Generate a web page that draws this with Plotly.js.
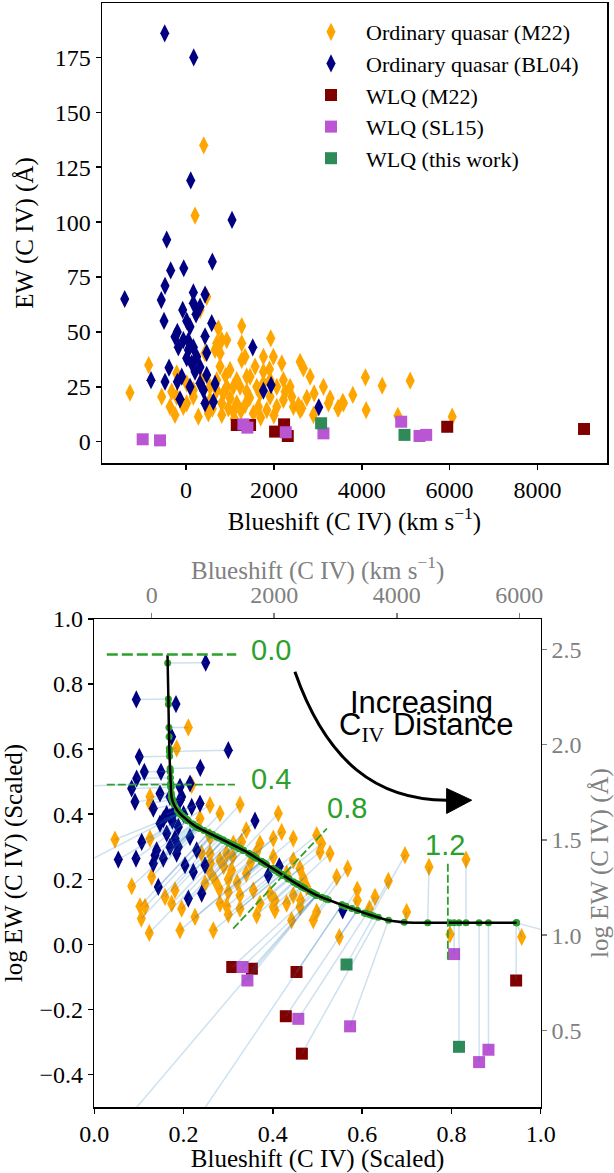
<!DOCTYPE html>
<html><head><meta charset="utf-8">
<script src="https://cdn.plot.ly/plotly-3.0.1.min.js"></script>
<style>html,body{margin:0;padding:0;background:#fff;}#chart{width:614px;height:1173px;}</style>
</head><body><div id="chart"></div>
<script>
// ---------- TOP PANEL DATA (Blueshift km/s, EW Angstrom) ----------
const topM22BS = [403,205,-1276,-850,-554,-364,-251,281,509,813,1077,1268,1929,1268,927,736,775,1344,1989,2180,2597,2672,2825,1572,1762,1002,775,1155,1458,2369,2217,3128,2916,3280,3583,3797,3470,4084,4465,4100,3242,2444,2597,2217,2066,1838,1647,1533,1344,1155,1002,850,699,927,1230,1382,1686,1914,2255,2408,2558,15,167,-212,-326,-61,547,813,964,-212,433,661,813,319,471,699,1268,1762,1382,1914,1762,2066,1610,1077,699,547,167,15,2635,3455,3569,5103,4822,6060,2900,1100,1700,2000,600,350,1900,1450,2750,900,1250];
const topM22EW = [135,103,22.3,34.9,20.5,15.9,12.2,11.4,12.9,12.2,13.7,52.7,47.1,44.8,46.3,51.6,40.3,38.7,38.7,35.7,36.4,33.4,29.6,34.2,31.9,32.7,34.2,28.1,29.6,25,28.1,25,22,19.8,17.5,21.3,15.2,29.3,25.5,14.4,17.5,15.9,14.4,19,15.9,14.4,15.9,12.9,16.7,17.5,19.8,22,23.5,25,25,22.8,22,20.5,22.8,20.5,16.7,17.5,20.5,20.5,22.8,15.9,19,17.5,15.2,31.1,40.3,41.8,46.3,60,66,44.8,37.2,38.7,29.6,28.1,26.6,25,25,25,28.1,25,23.5,26.6,15.2,15.2,18.2,27.8,11.8,11.4,12.2,10.5,11,12,15,28,33,20,20,30,14];
const topBL04BS = [-485,175,107,1047,-440,-349,-52,599,-478,-1396,-563,167,433,-76,-501,15,228,585,-198,53,167,433,-175,471,15,319,1519,-387,-797,-478,-198,-98,205,471,661,319,91,395,-137,433,623,1762,1936,3022,129,243,-61,91,167,319,-251,53];
const topBL04EW = [186,175,119,101,92,78,79,82,71,65,64.5,68,67,60,55,55,58,54,50,46,43,48,43,40.5,38,34,43,33.7,28,27.3,27.3,29.6,31.9,30.4,26.3,26.6,25,23.5,19.3,17.5,18.2,23.2,25.8,15.7,35.7,38.7,46.3,52.4,63,61.5,47.8,41.8];
const topWlqM22BS = [1155,1458,2027,2232,2316,5946,9060];
const topWlqM22EW = [7.6,7.6,4.6,7.9,2.6,6.8,5.8];
const topWlqSL15BS = [-987,-592,1306,1397,2270,3128,4898,5315,5467];
const topWlqSL15EW = [1.1,0.6,7.9,6.4,4.3,3.8,9.1,2.6,3.1];
const topWlqThisBS = [3075,4973];
const topWlqThisEW = [8.4,3.1];

// ---------- BOTTOM PANEL DATA (scaled blueshift, scaled log EW) ----------
const botM22X = [0.2106,0.1845,0.2182,0.1247,0.1248,0.2592,0.3264,0.2816,0.4122,0.2368,0.0464,0.1248,0.0838,0.1024,0.1136,0.1054,0.1232,0.1285,0.1584,0.1957,0.2256,0.2666,0.1920,0.1733,0.1808,0.3405,0.3712,0.4197,0.4458,0.4010,0.3637,0.4010,0.4458,0.4982,0.5094,0.5280,0.5056,0.5430,0.4607,0.4309,0.4682,0.4757,0.4458,0.3936,0.3562,0.3264,0.3712,0.4010,0.4309,0.3637,0.4420,0.4607,0.4982,0.4906,0.3002,0.2816,0.3264,0.3405,0.3077,0.2816,0.2592,0.2592,0.3114,0.2965,0.3002,0.4047,0.2703,0.2592,0.2480,0.2965,0.3300,0.29,0.31,0.30,0.28,0.32,0.35,0.26,0.24,0.5676,0.5892,0.5892,0.6288,0.6587,0.6960,0.7498,0.6162,0.6997,0.5489,0.4622,0.4047,0.8327,0.7968,0.9574,-0.047];
const botM22Y = [0.6667,0.6021,0.4892,0.4533,0.4329,0.4277,0.4297,0.4021,0.4021,0.3867,0.3221,0.3252,0.1785,0.1169,0.1149,0.0791,0.0348,0.2072,0.1456,0.1097,0.0841,0.0431,0.0431,0.1251,0.1662,0.3508,0.3098,0.3456,0.3252,0.3252,0.2841,0.2687,0.2585,0.3354,0.3098,0.2790,0.2841,0.2072,0.2329,0.2175,0.2021,0.1764,0.1508,0.1559,0.1662,0.1508,0.1252,0.1149,0.1252,0.0892,0.0738,0.1149,0.0995,0.0738,0.1610,0.1252,0.1097,0.2175,0.2277,0.2585,0.2790,0.3302,0.3098,0.1169,0.0918,0.1046,0.1970,0.2226,0.1867,0.2790,0.3150,0.24,0.27,0.20,0.17,0.19,0.25,0.25,0.28,0.2329,0.1682,0.1354,0.1456,0.1949,0.2739,0.2380,0.1097,0.0995,0.0226,0.1354,0.1354,0.2605,0.0308,0.0226,0.232];
const botBL04X = [0.2495,0.0941,0.1830,0.1733,0.3002,0.1008,0.2375,0.1120,0.1494,0.0949,0.0837,0.2144,0.1920,0.0911,0.1472,0.1322,0.1957,0.2368,0.1472,0.1696,0.1882,0.1062,0.0538,0.0934,0.1397,0.1322,0.1546,0.1696,0.1845,0.2032,0.2218,0.1434,0.2106,0.2406,0.2480,0.2294,0.2144,0.1808,0.1622,0.1696,0.1920,0.2182,0.3600,0.4144,0.3898,0.5564,0.1360,0.1882,0.1620,0.1800,0.1750,0.1550,0.2000,-0.063];
const botBL04Y = [0.8656,0.7529,0.7385,0.6379,0.5969,0.5764,0.5426,0.5303,0.5303,0.5098,0.4790,0.4944,0.4840,0.4379,0.4636,0.4174,0.4533,0.4328,0.3713,0.3918,0.3610,0.3148,0.2605,0.2636,0.2892,0.2482,0.2636,0.2995,0.2790,0.2431,0.2225,0.1764,0.1405,0.1559,0.2431,0.2892,0.3302,0.3252,0.3406,0.4533,0.4431,0.4225,0.3800,0.2400,0.2123,0.1046,0.2738,0.2995,0.4000,0.4100,0.3800,0.3850,0.4000,0.485];
const botWlqM22X = [0.309,0.353,0.453,0.429,0.465,0.945,1.37];
const botWlqM22Y = [-0.070,-0.075,-0.085,-0.221,-0.336,-0.111,-0.09];
const botWlqSL15X = [0.332,0.343,0.457,0.573,0.806,0.862,0.883,0.04,0.20];
const botWlqSL15Y = [-0.070,-0.111,-0.229,-0.252,-0.030,-0.362,-0.324,-0.59,-0.60];
const botWlqThisX = [0.565,0.817];
const botWlqThisY = [-0.062,-0.315];
// principal curve
const curveX = [0.164,0.166,0.168,0.171,0.173,0.180,0.192,0.210,0.229,0.282,0.341,0.394,0.446,0.498,0.547,0.610,0.659,0.700,0.759,0.946];
const curveY = [0.889,0.750,0.600,0.500,0.453,0.425,0.402,0.380,0.361,0.325,0.284,0.238,0.192,0.151,0.125,0.094,0.074,0.067,0.066,0.066];
// distance labels
const distLabels = ['0.0','0.4','0.8','1.2'];

// ---------- styling ----------
const SERIF = 'Liberation Serif, DejaVu Serif, serif';
const SANS = 'Liberation Sans, Arial, sans-serif';
const C = {m22:'#FFA500', bl04:'#000080', wm22:'#800000', wsl15:'#BA55D3', wthis:'#2E8B57', green:'#2ca02c', gray:'#808080'};
const W = 614, H = 1173;

// nearest point on curve
function project(px, py){
  let best=[curveX[0],curveY[0]], bd=Infinity;
  for(let i=0;i<curveX.length-1;i++){
    const ax=curveX[i], ay=curveY[i], dx=curveX[i+1]-ax, dy=curveY[i+1]-ay;
    let t=((px-ax)*dx+(py-ay)*dy)/(dx*dx+dy*dy); t=Math.max(0,Math.min(1,t));
    const qx=ax+t*dx, qy=ay+t*dy, d=(px-qx)*(px-qx)+(py-qy)*(py-qy);
    if(d<bd){bd=d;best=[qx,qy];}
  }
  return best;
}
const allBX = [].concat(botM22X, botBL04X, botWlqM22X, botWlqSL15X, botWlqThisX);
const allBY = [].concat(botM22Y, botBL04Y, botWlqM22Y, botWlqSL15Y, botWlqThisY);
const linkX=[], linkY=[], dotX=[], dotY=[];
allBX.forEach((x,i)=>{const p=project(x,allBY[i]); linkX.push(x,p[0],null); linkY.push(allBY[i],p[1],null); dotX.push(p[0]); dotY.push(p[1]);});

const dia = (c)=>({symbol:'diamond-tall', size:13, color:c, line:{width:0}});
const sq = (c)=>({symbol:'square', size:12, color:c, line:{width:0}});

const traces = [
  {type:'scatter', mode:'markers', name:'Ordinary quasar (M22)', x:topM22BS, y:topM22EW, marker:dia(C.m22), xaxis:'x', yaxis:'y'},
  {type:'scatter', mode:'markers', name:'Ordinary quasar (BL04)', x:topBL04BS, y:topBL04EW, marker:dia(C.bl04), xaxis:'x', yaxis:'y'},
  {type:'scatter', mode:'markers', name:'WLQ (M22)', x:topWlqM22BS, y:topWlqM22EW, marker:sq(C.wm22), xaxis:'x', yaxis:'y'},
  {type:'scatter', mode:'markers', name:'WLQ (SL15)', x:topWlqSL15BS, y:topWlqSL15EW, marker:sq(C.wsl15), xaxis:'x', yaxis:'y'},
  {type:'scatter', mode:'markers', name:'WLQ (this work)', x:topWlqThisBS, y:topWlqThisEW, marker:sq(C.wthis), xaxis:'x', yaxis:'y'},
  // bottom
  {type:'scatter', mode:'markers', x:botM22X, y:botM22Y, marker:dia(C.m22), xaxis:'x2', yaxis:'y2', showlegend:false},
  {type:'scatter', mode:'markers', x:botBL04X, y:botBL04Y, marker:dia(C.bl04), xaxis:'x2', yaxis:'y2', showlegend:false},
  {type:'scatter', mode:'markers', x:botWlqM22X, y:botWlqM22Y, marker:sq(C.wm22), xaxis:'x2', yaxis:'y2', showlegend:false},
  {type:'scatter', mode:'markers', x:botWlqSL15X, y:botWlqSL15Y, marker:sq(C.wsl15), xaxis:'x2', yaxis:'y2', showlegend:false},
  {type:'scatter', mode:'markers', x:botWlqThisX, y:botWlqThisY, marker:sq(C.wthis), xaxis:'x2', yaxis:'y2', showlegend:false},
  {type:'scatter', mode:'lines', x:linkX, y:linkY, line:{color:'rgba(31,119,180,0.22)', width:1.5}, xaxis:'x2', yaxis:'y2', showlegend:false, connectgaps:false},
  {type:'scatter', mode:'markers', x:dotX, y:dotY, marker:{color:C.green, size:7, line:{width:0}}, xaxis:'x2', yaxis:'y2', showlegend:false},
  {type:'scatter', mode:'lines', x:curveX, y:curveY, line:{color:'black', width:2.5, shape:'spline', smoothing:0.6}, xaxis:'x2', yaxis:'y2', showlegend:false},
  {type:'scatter', mode:'markers', x:[], y:[], xaxis:'x3', yaxis:'y3', showlegend:false, hoverinfo:'skip'}
];

function ax(o){
  return Object.assign({showgrid:false, zeroline:false, showline:true, mirror:true, linecolor:'black', linewidth:1.5,
    ticks:'outside', ticklen:5, tickwidth:1.5, tickcolor:'black', automargin:false,
    tickfont:{family:SERIF, size:24, color:'black'}}, o);
}
const ttl = (t, s, col)=>({text:t, standoff:s, font:{family:SERIF, size:25, color:col||'black'}});

const layout = {
  width:W, height:H, margin:{l:0,r:0,t:0,b:0}, paper_bgcolor:'white', plot_bgcolor:'white',
  font:{family:SERIF, size:24, color:'black'},
  showlegend:true,
  legend:{x:296/W, xanchor:'left', y:1-11/H, yanchor:'top', bgcolor:'rgba(0,0,0,0)', borderwidth:0,
    font:{family:SERIF, size:22, color:'black'}, itemwidth:60, tracegroupgap:0},
  xaxis: ax({domain:[102/W, 607/W], anchor:'y', range:[-1913, 9583], tickvals:[0,2000,4000,6000,8000],
    title:ttl('Blueshift (C IV) (km s<sup>−1</sup>)', 8)}),
  yaxis: ax({domain:[1-463/H, 1-3/H], anchor:'x', range:[-9.7, 199.8], tickvals:[0,25,50,75,100,125,150,175],
    title:ttl('EW (C IV) (Å)', 14)}),
  xaxis2: ax({domain:[94.3/W, 540.7/W], anchor:'y2', range:[0,1], tickvals:[0,0.2,0.4,0.6,0.8,1.0], tickformat:'.1f',
    title:ttl('Blueshift (C IV) (Scaled)', 4)}),
  yaxis2: ax({domain:[1-1107/H, 1-619/H], anchor:'x2', range:[-0.5,1.0], tickvals:[-0.4,-0.2,0,0.2,0.4,0.6,0.8,1.0], tickformat:'.1f',
    title:ttl('log EW (C IV) (Scaled)', 14)}),
  xaxis3: ax({overlaying:'x2', side:'top', anchor:'y2', range:[-937, 6349], tickvals:[0,2000,4000,6000], showline:false, mirror:false,
    tickcolor:C.gray, tickfont:{family:SERIF, size:24, color:C.gray}}),
  yaxis3: ax({overlaying:'y2', side:'right', anchor:'x2', range:[0.098, 2.659], tickvals:[0.5,1.0,1.5,2.0,2.5], tickformat:'.1f', showline:false, mirror:false,
    tickcolor:C.gray, tickfont:{family:SERIF, size:24, color:C.gray}, title:ttl('log EW (C IV) (Å)', 10, C.gray)}),
  shapes:[
    {type:'line', xref:'x2', yref:'y2', x0:0.028, y0:0.891, x1:0.318, y1:0.891, line:{color:C.green, width:2.5, dash:'11px,4px'}},
    {type:'line', xref:'x2', yref:'y2', x0:0.028, y0:0.491, x1:0.315, y1:0.491, line:{color:C.green, width:1.8, dash:'8px,3px'}},
    {type:'line', xref:'x2', yref:'y2', x0:0.311, y0:0.048, x1:0.521, y1:0.356, line:{color:C.green, width:1.8, dash:'8px,3px'}},
    {type:'line', xref:'x2', yref:'y2', x0:0.792, y0:0.248, x1:0.792, y1:-0.05, line:{color:C.green, width:1.8, dash:'8px,3px'}},
    {type:'path', xref:'x2', yref:'y2', path:'M 0.4494,0.8375 C 0.5202,0.56 0.6333,0.4431 0.7901,0.4431', line:{color:'black', width:3}},
    {type:'path', xref:'x2', yref:'y2', path:'M 0.7893,0.479 L 0.8454,0.4431 L 0.7893,0.4022 Z', line:{color:'black', width:1}, fillcolor:'black'}
  ],
  annotations:[
    {xref:'paper', yref:'paper', x:317.5/W, y:1-569/H, xanchor:'center', yanchor:'middle', text:'Blueshift (C IV) (km s<sup>−1</sup>)', showarrow:false, font:{family:SERIF, size:25, color:C.gray}},
    {xref:'x2', yref:'y2', x:0.3954, y:0.9046, text:distLabels[0], showarrow:false, font:{family:SANS, size:29, color:C.green}},
    {xref:'x2', yref:'y2', x:0.3954, y:0.5071, text:distLabels[1], showarrow:false, font:{family:SANS, size:29, color:C.green}},
    {xref:'x2', yref:'y2', x:0.5665, y:0.419, text:distLabels[2], showarrow:false, font:{family:SANS, size:29, color:C.green}},
    {xref:'x2', yref:'y2', x:0.7845, y:0.3046, text:distLabels[3], showarrow:false, font:{family:SANS, size:29, color:C.green}},
    {xref:'x2', yref:'y2', x:0.7334, y:0.742, text:'Increasing', showarrow:false, font:{family:SANS, size:31, color:'black'}},
    {xref:'x2', yref:'y2', x:0.7446, y:0.668, text:'C<sub><span style="font-family:Liberation Serif">IV</span></sub> Distance', showarrow:false, font:{family:SANS, size:31, color:'black'}}
  ]
};

Plotly.newPlot('chart', traces, layout, {staticPlot:true, displayModeBar:false});
</script></body></html>
